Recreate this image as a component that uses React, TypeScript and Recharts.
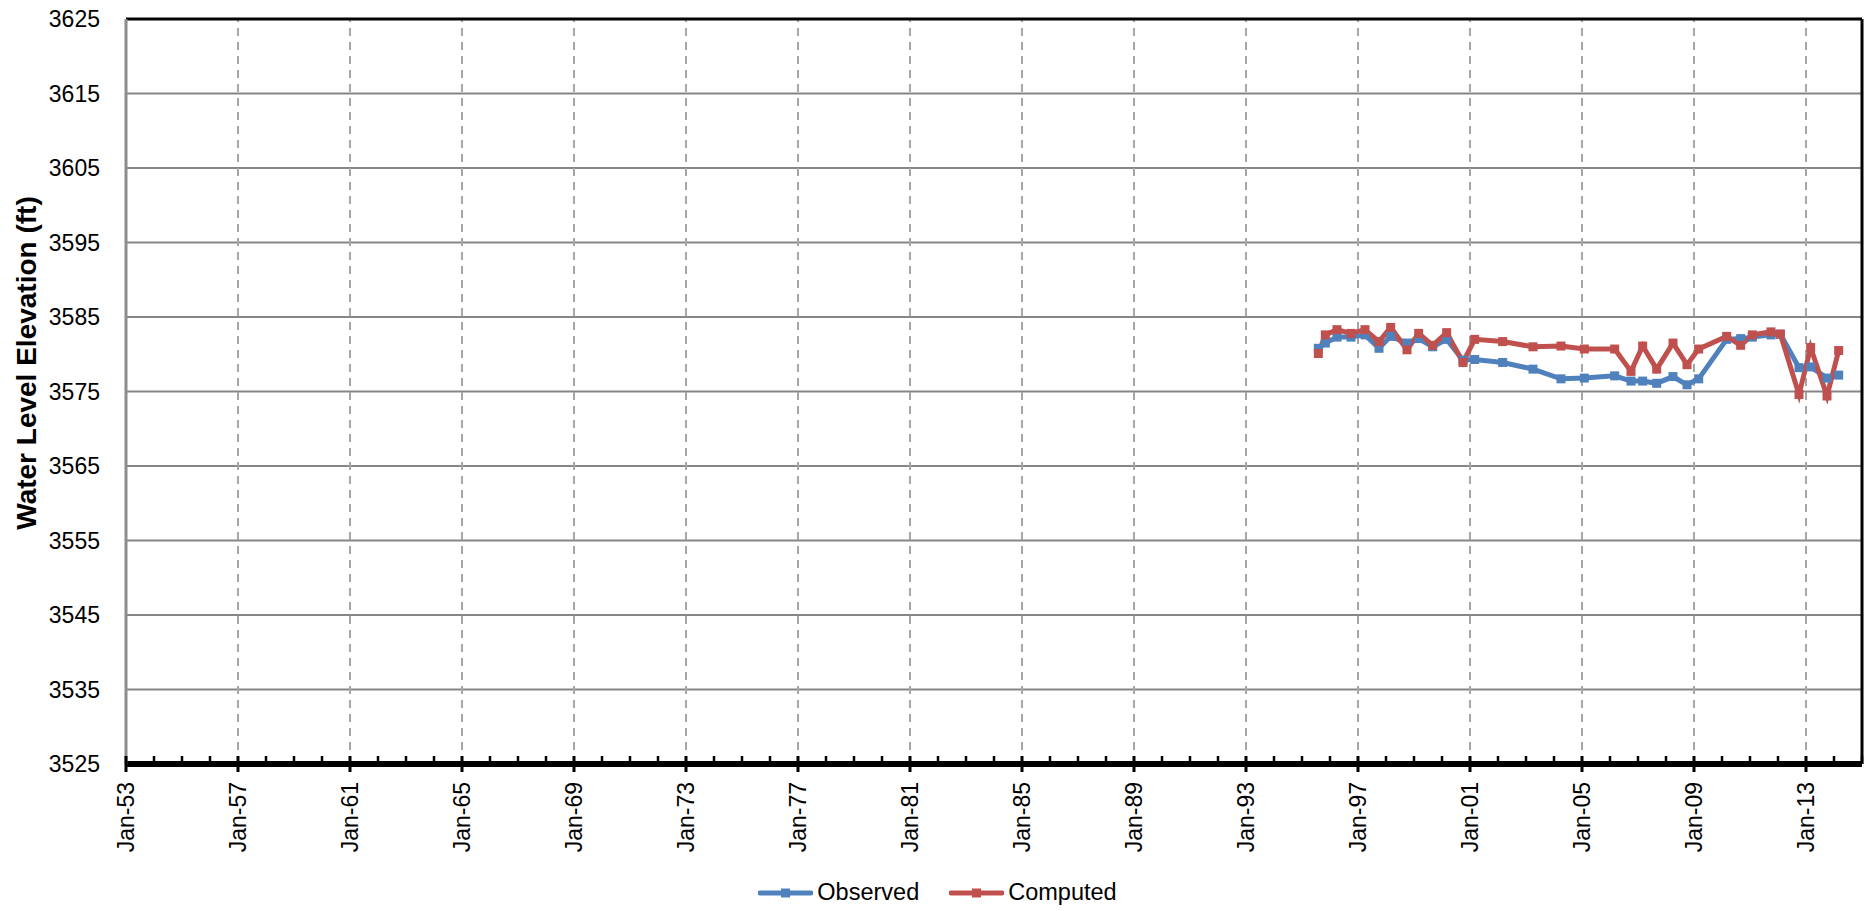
import {
  CartesianGrid,
  Legend,
  Line,
  LineChart,
  ReferenceLine,
  XAxis,
  YAxis,
} from 'recharts';

// sample dates (year-month) and water levels (ft)
const dates = [
  '1995-08', '1995-11', '1996-04', '1996-10', '1997-04', '1997-10', '1998-03',
  '1998-10', '1999-03', '1999-09', '2000-03', '2000-10', '2001-03', '2002-03',
  '2003-04', '2004-04', '2005-02', '2006-03', '2006-10', '2007-03', '2007-09',
  '2008-04', '2008-10', '2009-03', '2010-03', '2010-09', '2011-02', '2011-10',
  '2012-02', '2012-10', '2013-03', '2013-10', '2014-03',
];

const observed = [
  3580.8, 3581.5, 3582.3, 3582.3, 3582.6, 3580.8, 3582.4, 3581.5, 3582.1, 3581.0,
  3582.0, 3579.2, 3579.3, 3578.9, 3578.0, 3576.7, 3576.8, 3577.1, 3576.4, 3576.4,
  3576.1, 3577.0, 3575.9, 3576.7, 3582.0, 3582.1, 3582.3, 3582.6, 3582.7, 3578.2,
  3578.3, 3576.8, 3577.2,
];

const computed = [
  3580.1, 3582.6, 3583.3, 3582.8, 3583.3, 3581.7, 3583.6, 3580.6, 3582.8, 3581.2,
  3582.9, 3578.9, 3582.0, 3581.7, 3581.0, 3581.1, 3580.7, 3580.7, 3577.7, 3581.1,
  3578.0, 3581.5, 3578.6, 3580.7, 3582.4, 3581.2, 3582.6, 3583.0, 3582.7, 3574.6,
  3580.9, 3574.4, 3580.5,
];

const yTicks = [3525, 3535, 3545, 3555, 3565, 3575, 3585, 3595, 3605, 3615, 3625];
const yearTicks = Array.from({ length: 63 }, (_, i) => 1953 + i);
const majorYears = yearTicks.filter((y) => (y - 1953) % 4 === 0 && y > 1953);

const FONT = '"Liberation Sans", Arial, sans-serif';
const BLUE = '#4f81bd';
const RED = '#c0504d';

const toYear = (d: string) => {
  const [y, m] = d.split('-').map(Number);
  return y + (m - 1) / 12;
};

const data = dates.map((d, i) => ({
  t: toYear(d),
  observed: observed[i],
  computed: computed[i],
}));

const XTick = (props: any) => {
  const { x, y, payload } = props;
  const yr = payload.value as number;
  const major = (yr - 1953) % 4 === 0;
  const ty = y + 18;
  return (
    <g>
      {major ? (
        <line x1={x} x2={x} y1={y - 8} y2={y + 8} stroke="#000" strokeWidth={3} />
      ) : (
        <line x1={x} x2={x} y1={y - 8} y2={y} stroke="#000" strokeWidth={2.5} />
      )}
      {major && (
        <text
          x={x}
          y={ty}
          transform={`rotate(-90 ${x} ${ty})`}
          textAnchor="end"
          dominantBaseline="central"
          fontFamily={FONT}
          fontSize={23}
          fill="#000"
        >
          {`Jan-${String(yr % 100).padStart(2, '0')}`}
        </text>
      )}
    </g>
  );
};

const SquareDot = (color: string) => (props: any) => {
  const { cx, cy, index } = props;
  if (cx == null || cy == null) return <g key={index} />;
  return <rect key={index} x={cx - 4.5} y={cy - 4.5} width={9} height={9} fill={color} />;
};

const LegendItem = ({ color, label }: { color: string; label: string }) => (
  <span style={{ display: 'inline-flex', alignItems: 'center' }}>
    <svg width={55} height={12}>
      <line x1={2} x2={53} y1={6} y2={6} stroke={color} strokeWidth={5} strokeLinecap="round" />
      <rect x={23} y={1.5} width={9} height={9} fill={color} />
    </svg>
    <span style={{ marginLeft: 4 }}>{label}</span>
  </span>
);

const renderLegend = () => (
  <div
    style={{
      display: 'flex',
      justifyContent: 'center',
      alignItems: 'center',
      gap: 30,
      height: 37,
      fontFamily: FONT,
      fontSize: 23.5,
      color: '#000',
    }}
  >
    <LegendItem color={BLUE} label="Observed" />
    <LegendItem color={RED} label="Computed" />
  </div>
);

export default function App() {
  return (
    <div style={{ position: 'absolute', left: 0, top: 0, background: '#fff' }}>
      <LineChart
        width={1875}
        height={911}
        data={data}
        margin={{ top: 19, right: 13, left: 0, bottom: 0 }}
      >
        <CartesianGrid vertical={false} stroke="#868686" strokeWidth={2} />
        {majorYears.map((yr) => (
          <ReferenceLine
            key={yr}
            x={yr}
            stroke="#a6a6a6"
            strokeWidth={2}
            strokeDasharray="8 6"
          />
        ))}
        <XAxis
          dataKey="t"
          type="number"
          domain={[1953, 2015]}
          ticks={yearTicks}
          interval={0}
          height={110}
          tickSize={0}
          tickMargin={0}
          tickLine={false}
          axisLine={{ stroke: '#000', strokeWidth: 6 }}
          tick={<XTick />}
        />
        <YAxis
          type="number"
          domain={[3525, 3625]}
          ticks={yTicks}
          interval={0}
          width={126}
          tickSize={0}
          tickMargin={26}
          tickLine={false}
          axisLine={{ stroke: '#8c8c8c', strokeWidth: 3 }}
          tick={{ fill: '#000', fontSize: 23, fontFamily: FONT }}
          label={{
            content: () => (
              <text
                x={26}
                y={363}
                transform="rotate(-90 26 363)"
                textAnchor="middle"
                dominantBaseline="central"
                fontFamily={FONT}
                fontWeight="bold"
                fontSize={28}
                fill="#000"
              >
                Water Level Elevation (ft)
              </text>
            ),
          }}
        />
        <ReferenceLine y={3625} stroke="#000" strokeWidth={3} />
        <ReferenceLine x={2015} stroke="#000" strokeWidth={3} />
        <Legend
          verticalAlign="bottom"
          height={37}
          content={renderLegend}
          wrapperStyle={{ left: 0, width: 1875 }}
        />
        <Line
          type="linear"
          dataKey="observed"
          stroke={BLUE}
          strokeWidth={5}
          dot={SquareDot(BLUE)}
          activeDot={false}
          isAnimationActive={false}
        />
        <Line
          type="linear"
          dataKey="computed"
          stroke={RED}
          strokeWidth={5}
          dot={SquareDot(RED)}
          activeDot={false}
          isAnimationActive={false}
        />
      </LineChart>
    </div>
  );
}
